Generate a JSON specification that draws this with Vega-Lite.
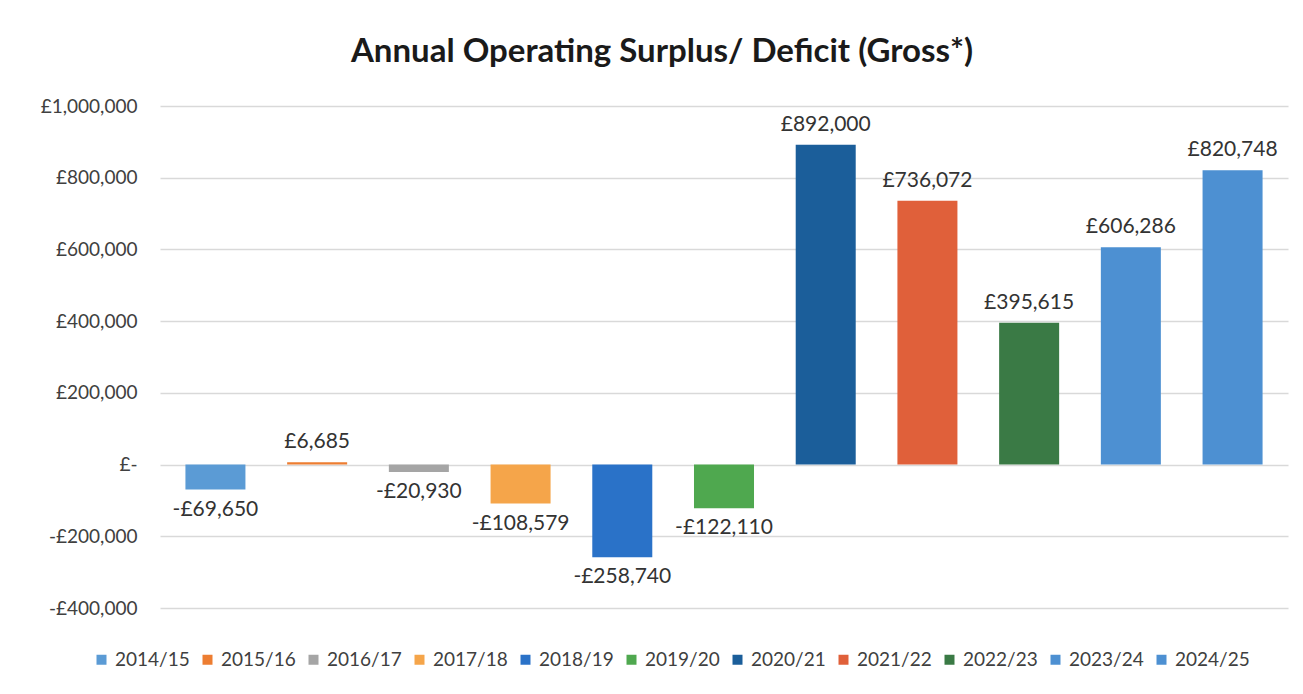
{
  "$schema": "https://vega.github.io/schema/vega-lite/v6.json",
  "autosize": {"type": "none"},
  "width": 1128,
  "height": 502,
  "padding": {"left": 160, "top": 106, "right": 15, "bottom": 86},
  "background": "white",
  "config": {
    "locale": {"number": {"decimal": ".", "thousands": ",", "grouping": [3], "currency": ["£", ""], "minus": "-"}},
    "font": "Lato",
    "view": {"stroke": null}
  },
  "title": {"text": "Annual Operating Surplus/ Deficit (Gross*)", "fontSize": 33, "fontWeight": "bold", "color": "#1a1a1a", "offset": 28, "anchor": "middle", "dx": -62, "font": "Lato"},
  "data": {"values": [
    {"year": "2014/15", "value": -69650},
    {"year": "2015/16", "value": 6685},
    {"year": "2016/17", "value": -20930},
    {"year": "2017/18", "value": -108579},
    {"year": "2018/19", "value": -258740},
    {"year": "2019/20", "value": -122110},
    {"year": "2020/21", "value": 892000},
    {"year": "2021/22", "value": 736072},
    {"year": "2022/23", "value": 395615},
    {"year": "2023/24", "value": 606286},
    {"year": "2024/25", "value": 820748}
  ]},
  "encoding": {
    "x": {"field": "year", "type": "nominal", "axis": null, "sort": null, "scale": {"paddingInner": 0.41, "paddingOuter": 0.25}},
    "y": {"field": "value", "type": "quantitative", "scale": {"domain": [-400000, 1000000], "nice": false},
      "axis": {"title": null, "values": [-400000, -200000, 0, 200000, 400000, 600000, 800000, 1000000],
        "labelExpr": "datum.value == 0 ? '£-' : (datum.value < 0 ? '-' : '') + '£' + format(abs(datum.value), ',')",
        "domain": false, "ticks": false, "labelPadding": 23, "labelFontSize": 19, "labelColor": "#404040", "gridColor": "#d9d9d9", "gridWidth": 1.5}}
  },
  "layer": [
    {"mark": {"type": "bar"},
     "encoding": {"color": {"field": "year", "type": "nominal", "sort": null,
        "scale": {"range": ["#5B9BD5", "#ED7D31", "#A5A5A5", "#F5A54A", "#2A72C8", "#4FA84F", "#1B5E9A", "#E0603A", "#3A7A45", "#4D90D2", "#4D90D2"]},
        "legend": {"title": null, "orient": "none", "legendX": -68, "legendY": 544, "direction": "horizontal", "columns": 11, "symbolType": "square", "symbolSize": 100, "labelFontSize": 19, "labelColor": "#404040", "columnPadding": 8, "labelOffset": 4, "symbolOffset": 0}}}},
    {"transform": [{"filter": "datum.value >= 0"}],
     "mark": {"type": "text", "baseline": "bottom", "dy": -10, "fontSize": 21, "color": "#333333"},
     "encoding": {"text": {"field": "value", "type": "quantitative", "format": "$,.0f"}}},
    {"transform": [{"filter": "datum.value < 0"}],
     "mark": {"type": "text", "baseline": "top", "dy": 9, "fontSize": 21, "color": "#333333"},
     "encoding": {"text": {"field": "value", "type": "quantitative", "format": "$,.0f"}}}
  ]
}
